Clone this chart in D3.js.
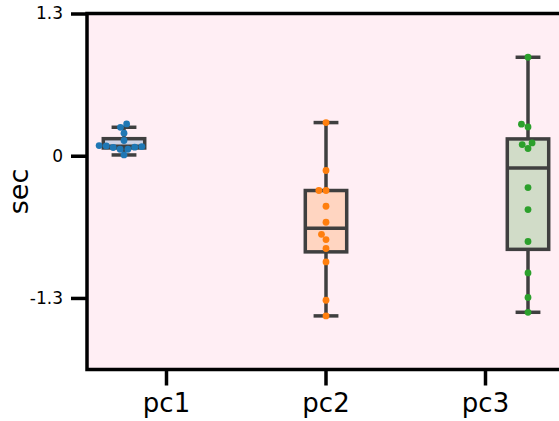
<!DOCTYPE html>
<html>
<head>
<meta charset="utf-8">
<script src="https://cdn.jsdelivr.net/npm/d3@7"></script>
<style>
  body { margin: 0; background: #fff; }
  svg { display: block; font-family: "DejaVu Sans", sans-serif; }
</style>
</head>
<body>
<svg id="chart" width="559" height="421"></svg>
<script>
var categories = ["pc1", "pc2", "pc3"];
var colors = ["#1f77b4", "#ff7f0e", "#2ca02c"];
var pc1Values = [0.007, 0.059, 0.059, 0.075, 0.078, 0.084, 0.090, 0.093, 0.139, 0.206, 0.26, 0.291];
var pc2Values = [0.303, -0.135, -0.318, -0.318, -0.462, -0.608, -0.718, -0.766, -0.848, -0.971, -1.321, -1.464];
var pc3Values = [0.900, 0.288, 0.263, 0.117, 0.102, 0.066, -0.291, -0.492, -0.784, -1.071, -1.296, -1.431];
var yTicks = [-1.3, 0, 1.3];
var yDomain = [-1.954, 1.3];

var series = [pc1Values, pc2Values, pc3Values];

var svg = d3.select("#chart");
var plot = { left: 87, right: 559, top: 13.5, bottom: 369.5 };
var dotR = 3.4;
var boxColor = "#3f3f3f";

var y = d3.scaleLinear().domain(yDomain).range([plot.bottom, plot.top]);
// box positions and tick positions do not line up in the source picture
var xBox = d3.scalePoint().domain(categories).range([124, 528]);
var xTick = d3.scalePoint().domain(categories).range([166, 485]);
var boxW = xBox.step() * 0.205;

svg.append("rect")
  .attr("x", plot.left).attr("y", plot.top)
  .attr("width", plot.right - plot.left).attr("height", plot.bottom - plot.top)
  .attr("fill", "#ffeef4");

function boxStats(vals) {
  var s = vals.slice().sort(d3.ascending);
  var q1 = d3.quantileSorted(s, 0.25), med = d3.quantileSorted(s, 0.5), q3 = d3.quantileSorted(s, 0.75);
  var iqr = q3 - q1;
  var lo = d3.min(s.filter(function (v) { return v >= q1 - 1.5 * iqr; }));
  var hi = d3.max(s.filter(function (v) { return v <= q3 + 1.5 * iqr; }));
  return { q1: q1, med: med, q3: q3, lo: lo, hi: hi };
}

// simple beeswarm, sorted bottom to top, closest free slot to the centre
function swarm(vals, r) {
  var pts = vals.map(function (v) { return { v: v, y: y(v) }; })
    .sort(function (a, b) { return b.y - a.y; });
  var placed = [];
  pts.forEach(function (p) {
    var nb = placed.filter(function (q) { return Math.abs(q.y - p.y) < 2 * r; });
    var cands = [0];
    var leftFirst = true;
    nb.forEach(function (q) {
      var dx = Math.sqrt(Math.max(4 * r * r - (p.y - q.y) * (p.y - q.y), 0)) * 1.05;
      if (leftFirst) cands.push(q.dx - dx, q.dx + dx);
      else cands.push(q.dx + dx, q.dx - dx);
      leftFirst = !leftFirst;
    });
    cands = cands.map(function (c, k) { return { c: c, k: k }; })
      .sort(function (a, b) { return Math.abs(a.c) - Math.abs(b.c) || a.k - b.k; });
    var pick = cands.find(function (o) {
      return nb.every(function (q) { return Math.hypot(o.c - q.dx, p.y - q.y) >= 2 * r - 1e-6; });
    });
    p.dx = pick ? pick.c : 0;
    placed.push(p);
  });
  return placed;
}

var groups = svg.selectAll("g.cat").data(categories).enter().append("g").attr("class", "cat");

groups.each(function (cat, i) {
  var g = d3.select(this);
  var st = boxStats(series[i]);
  var cx = xBox(cat);
  var capW = boxW * 0.6;

  g.append("line").attr("x1", cx).attr("x2", cx).attr("y1", y(st.q3)).attr("y2", y(st.hi))
    .attr("stroke", boxColor).attr("stroke-width", 3.5);
  g.append("line").attr("x1", cx).attr("x2", cx).attr("y1", y(st.q1)).attr("y2", y(st.lo))
    .attr("stroke", boxColor).attr("stroke-width", 3.5);
  [st.hi, st.lo].forEach(function (v) {
    g.append("line").attr("x1", cx - capW / 2).attr("x2", cx + capW / 2).attr("y1", y(v)).attr("y2", y(v))
      .attr("stroke", boxColor).attr("stroke-width", 3.5);
  });
  g.append("rect")
    .attr("x", cx - boxW / 2).attr("y", y(st.q3))
    .attr("width", boxW).attr("height", y(st.q1) - y(st.q3))
    .attr("fill", colors[i]).attr("fill-opacity", 0.22)
    .attr("stroke", boxColor).attr("stroke-width", 3.5);
  g.append("line").attr("x1", cx - boxW / 2).attr("x2", cx + boxW / 2)
    .attr("y1", y(st.med)).attr("y2", y(st.med))
    .attr("stroke", boxColor).attr("stroke-width", 3.5);

  g.selectAll("circle").data(swarm(series[i], dotR)).enter().append("circle")
    .attr("cx", function (d) { return cx + d.dx; })
    .attr("cy", function (d) { return d.y; })
    .attr("r", dotR)
    .attr("fill", colors[i]);
});

// axes
var yAxis = d3.axisLeft(y).tickValues(yTicks).tickSize(16).tickPadding(8)
  .tickFormat(function (d) { return d === 0 ? "0" : String(d); });
var gy = svg.append("g").attr("transform", "translate(" + plot.left + ",0)").call(yAxis);
gy.select(".domain").remove();
gy.selectAll("line").attr("stroke", "#000").attr("stroke-width", 3.5);
gy.selectAll("text").attr("font-size", 17).attr("fill", "#000").attr("font-family", "DejaVu Sans");

var xAxis = d3.axisBottom(xTick).tickSize(16).tickPadding(8);
var gx = svg.append("g").attr("transform", "translate(0," + plot.bottom + ")").call(xAxis);
gx.select(".domain").remove();
gx.selectAll("line").attr("stroke", "#000").attr("stroke-width", 3.5);
gx.selectAll("text").attr("font-size", 26).attr("fill", "#000").attr("font-family", "DejaVu Sans");

// spines: left, top, bottom
svg.append("path")
  .attr("d", "M" + plot.right + "," + plot.top + "H" + plot.left + "V" + plot.bottom + "H" + plot.right)
  .attr("fill", "none").attr("stroke", "#000").attr("stroke-width", 3.5)
  .attr("stroke-linecap", "square");

svg.append("text")
  .attr("transform", "translate(28," + ((plot.top + plot.bottom) / 2) + ") rotate(-90)")
  .attr("text-anchor", "middle")
  .attr("font-size", 27)
  .text("sec");
</script>
</body>
</html>
